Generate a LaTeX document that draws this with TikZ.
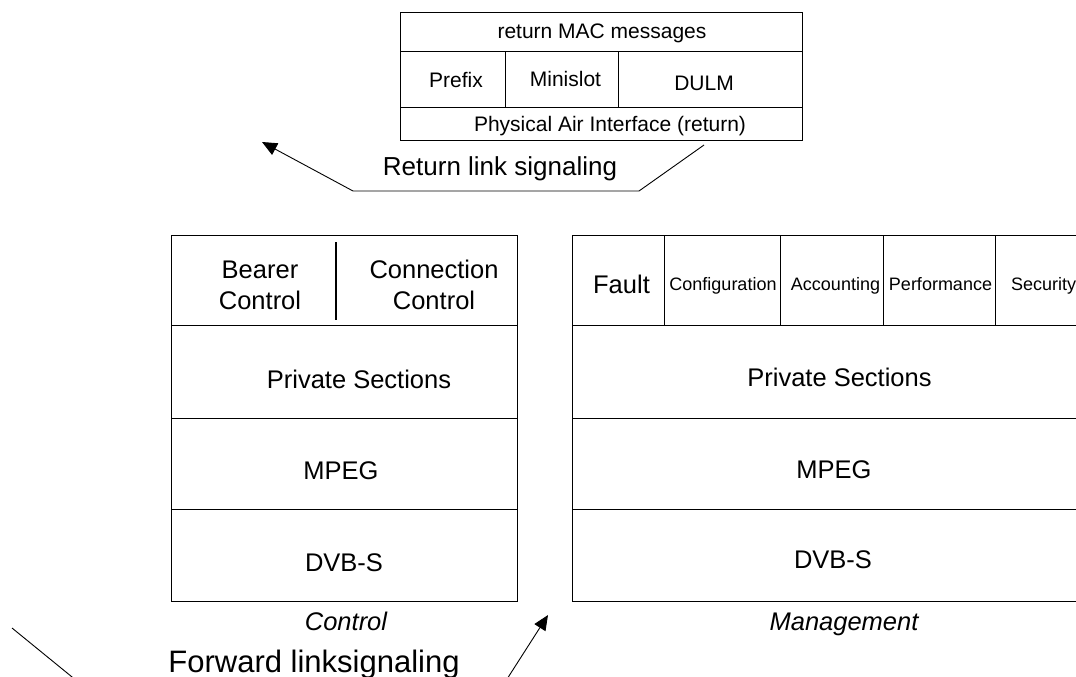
\documentclass[tikz,border=0pt]{standalone}
\usepackage{fontspec}
\setmainfont{Liberation Sans}
\usetikzlibrary{arrows.meta}
\begin{document}
\begin{tikzpicture}[x=1pt,y=-1pt,
  cellbox/.style={draw, line width=1.2pt, inner sep=0pt, anchor=north west},
  thincell/.style={draw, line width=0.9pt, inner sep=0pt, anchor=north west},
  bigtxt/.style={anchor=base, inner sep=0pt, font=\fontsize{25.5}{31}\selectfont},
  midtxt/.style={anchor=base, inner sep=0pt, font=\fontsize{21}{25}\selectfont},
  smalltxt/.style={anchor=base, inner sep=0pt, font=\fontsize{18}{22}\selectfont},
  captxt/.style={anchor=base, inner sep=0pt, font=\fontsize{25.5}{31}\selectfont\itshape},
  linktxt/.style={anchor=base, inner sep=0pt},
  conn/.style={line width=0.9pt},
  tip/.style={-{Triangle[length=15pt,width=13pt]}}
]
\clip (0,0) rectangle (1076,677);

% ---------- top box (return link stack) ----------
\node[thincell, minimum width=402pt, minimum height=39pt] (mac) at (400,12) {};
\node[thincell, minimum width=105pt, minimum height=56pt] (prefix) at (400,51) {};
\node[thincell, minimum width=113pt, minimum height=56pt] (minislot) at (505,51) {};
\node[thincell, minimum width=184pt, minimum height=56pt] (dulm) at (618,51) {};
\node[thincell, minimum width=402pt, minimum height=33pt] (pai) at (400,107) {};
\node[midtxt] (tmac) at (602,39) {return MAC messages};
\node[midtxt] (tprefix) at (456,87) {Prefix};
\node[midtxt] (tminislot) at (565.5,86) {Minislot};
\node[midtxt] (tdulm) at (704,91) {DULM};
\node[midtxt] (tpai) at (610,131) {Physical Air Interface (return)};

% return link signaling
\coordinate (r0) at (704,145);
\coordinate (r1) at (639,191);
\coordinate (r2) at (353,191);
\coordinate (r3) at (262,142);
\draw[conn, tip] (r0) -- (r1) -- (r2) -- (r3);
\node[linktxt, font=\fontsize{26}{31}\selectfont] (tret) at (500,175) {Return link signaling};

% ---------- Control stack ----------
\node[cellbox, minimum width=346pt, minimum height=90pt] (cctl) at (171,235) {};
\node[cellbox, minimum width=346pt, minimum height=93pt] (cps) at (171,325) {};
\node[cellbox, minimum width=346pt, minimum height=91pt] (cmpeg) at (171,418) {};
\node[cellbox, minimum width=346pt, minimum height=92pt] (cdvb) at (171,509) {};
\coordinate (d0) at (336,242);
\coordinate (d1) at (336,320);
\draw[line width=1.2pt] (d0) -- (d1);
\node[bigtxt, align=center] (tbearer) at (260,309) {Bearer\\Control};
\node[bigtxt, align=center] (tconn) at (434,309) {Connection\\Control};
\node[bigtxt] (tcps) at (359,388) {Private Sections};
\node[bigtxt] (tcmpeg) at (341,479) {MPEG};
\node[bigtxt] (tcdvb) at (344,571) {DVB-S};
\node[captxt] (tcontrol) at (346,630) {Control};

% ---------- Management stack ----------
\node[cellbox, minimum width=92pt, minimum height=90pt] (mfault) at (572,235) {};
\node[cellbox, minimum width=116pt, minimum height=90pt] (mconf) at (664,235) {};
\node[cellbox, minimum width=103pt, minimum height=90pt] (macc) at (780,235) {};
\node[cellbox, minimum width=112pt, minimum height=90pt] (mperf) at (883,235) {};
\node[cellbox, minimum width=110pt, minimum height=90pt] (msec) at (995,235) {};
\node[cellbox, minimum width=533pt, minimum height=93pt] (mps) at (572,325) {};
\node[cellbox, minimum width=533pt, minimum height=91pt] (mmpeg) at (572,418) {};
\node[cellbox, minimum width=533pt, minimum height=92pt] (mdvb) at (572,509) {};
\node[bigtxt] (tfault) at (621.5,293) {Fault};
\node[smalltxt] (tconf) at (723,290) {Configuration};
\node[smalltxt] (tacc) at (835.5,290) {Accounting};
\node[smalltxt] (tperf) at (940.5,290) {Performance};
\node[smalltxt] (tsec) at (1043.5,290) {Security};
\node[bigtxt] (tmps) at (839.5,386) {Private Sections};
\node[bigtxt] (tmmpeg) at (834,478) {MPEG};
\node[bigtxt] (tmdvb) at (833,568) {DVB-S};
\node[captxt] (tmgmt) at (844,630) {Management};

% ---------- forward link signaling ----------
\coordinate (f0) at (12,628);
\coordinate (f1) at (88,690);
\draw[conn] (f0) -- (f1);
\coordinate (g0) at (500,690);
\coordinate (g1) at (548,615);
\draw[conn, tip] (g0) -- (g1);
\node[linktxt, font=\fontsize{31}{36}\selectfont] (tfwd) at (314,672) {Forward linksignaling};
\end{tikzpicture}
\end{document}
